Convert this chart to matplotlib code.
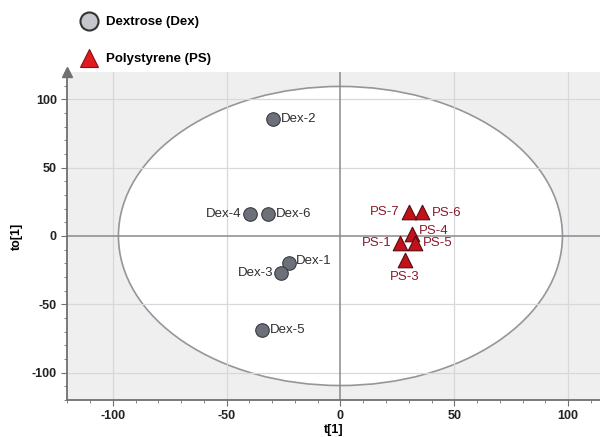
import numpy as np
import matplotlib
matplotlib.use("Agg")
import matplotlib.pyplot as plt
import matplotlib.patches as patches
from matplotlib.lines import Line2D
from matplotlib.ticker import MultipleLocator

plt.rcParams["font.family"] = ["Liberation Sans", "DejaVu Sans"]
plt.rcParams["axes.unicode_minus"] = False

# scores (t[1], to[1])
dex_names = ["Dex-1", "Dex-2", "Dex-3", "Dex-4", "Dex-5", "Dex-6"]
dex_t = [-22.7, -29.8, -25.9, -39.9, -34.6, -32.0]
dex_to = [-19.6, 86.0, -26.9, 15.8, -68.6, 16.0]

ps_names = ["PS-1", "PS-3", "PS-4", "PS-5", "PS-6", "PS-7"]
ps_t = [26.3, 28.2, 31.4, 32.6, 36.0, 30.0]
ps_to = [-5.0, -17.7, 1.7, -5.0, 17.5, 17.5]

# Hotelling T2 ellipse semi-axes
ell_a = 97.5
ell_b = 109.5

ticks = [-100, -50, 0, 50, 100]

# label placement (offset in points, ha, va)
dex_lab = {
    "Dex-1": ((5, 1), "left", "center"),
    "Dex-2": ((6, 0), "left", "center"),
    "Dex-3": ((-6, 0), "right", "center"),
    "Dex-4": ((-6, 0), "right", "center"),
    "Dex-5": ((6, 0), "left", "center"),
    "Dex-6": ((6, 0), "left", "center"),
}
ps_lab = {
    "PS-1": ((-6, 0), "right", "center"),
    "PS-3": ((0, -8), "center", "top"),
    "PS-4": ((5, 2), "left", "center"),
    "PS-5": ((6, 0), "left", "center"),
    "PS-6": ((7, -1), "left", "center"),
    "PS-7": ((-7, 0), "right", "center"),
}

fig = plt.figure(figsize=(6.0, 4.37), dpi=100)
ax = fig.add_axes([0.112, 0.085, 0.888, 0.75])
ax.set_xlim(-120, 114)
ax.set_ylim(-120, 120)
ax.set_facecolor("#efeff0")

ell = patches.Ellipse((0, 0), 2 * ell_a, 2 * ell_b, facecolor="white",
                      edgecolor="#96969a", linewidth=1.2, zorder=0.5)
ax.add_patch(ell)

for v in ticks:
    if v == 0:
        continue
    ax.axvline(v, color="#d8d8dc", linewidth=0.9, zorder=0.8)
    ax.axhline(v, color="#d8d8dc", linewidth=0.9, zorder=0.8)
ax.axvline(0, color="#8a8a8e", linewidth=1.1, zorder=1)
ax.axhline(0, color="#8a8a8e", linewidth=1.1, zorder=1)

ax.scatter(dex_t, dex_to, s=95, marker="o", facecolor="#6e7079",
           edgecolor="#3a3b40", linewidth=0.8, zorder=3)
ax.scatter(ps_t, ps_to, s=110, marker="^", facecolor="#c0121c",
           edgecolor="#5a0a0e", linewidth=0.8, zorder=3)

for n, x, y in zip(dex_names, dex_t, dex_to):
    off, ha, va = dex_lab[n]
    ax.annotate(n, (x, y), xytext=off, textcoords="offset points",
                ha=ha, va=va, fontsize=9.5, color="#2e2e33", zorder=4)
for n, x, y in zip(ps_names, ps_t, ps_to):
    off, ha, va = ps_lab[n]
    ax.annotate(n, (x, y), xytext=off, textcoords="offset points",
                ha=ha, va=va, fontsize=9.5, color="#8a1a2c", zorder=4)

for s in ["top", "right"]:
    ax.spines[s].set_visible(False)
for s in ["left", "bottom"]:
    ax.spines[s].set_color("#707074")
    ax.spines[s].set_linewidth(1.3)
ax.plot(0, 1, marker="^", color="#707074", markersize=7,
        transform=ax.transAxes, clip_on=False, zorder=5)

ax.set_xticks(ticks)
ax.set_yticks(ticks)
ax.xaxis.set_minor_locator(MultipleLocator(10))
ax.yaxis.set_minor_locator(MultipleLocator(10))
ax.tick_params(which="major", length=4, color="#707074", labelsize=9)
ax.tick_params(which="minor", length=2.5, color="#707074")
for lab in ax.get_xticklabels() + ax.get_yticklabels():
    lab.set_fontweight("bold")
    lab.set_color("#222222")

ax.set_xlabel("t[1]", fontsize=9, fontweight="bold", labelpad=1)
ax.set_ylabel("to[1]", fontsize=9, fontweight="bold", labelpad=6)

handles = [
    Line2D([], [], marker="o", linestyle="none", markersize=13,
           markerfacecolor="#c6c7cc", markeredgecolor="#333333",
           markeredgewidth=1.5, label="Dextrose (Dex)"),
    Line2D([], [], marker="^", linestyle="none", markersize=13,
           markerfacecolor="#e01a22", markeredgecolor="#8a0c10",
           markeredgewidth=0.8, label="Polystyrene (PS)"),
]
fig.legend(handles=handles, loc="upper left", bbox_to_anchor=(0.107, 0.99),
           frameon=False, handletextpad=0.3, labelspacing=1.85,
           prop={"weight": "bold", "size": 9.5})

fig.savefig("out.png", dpi=100)
